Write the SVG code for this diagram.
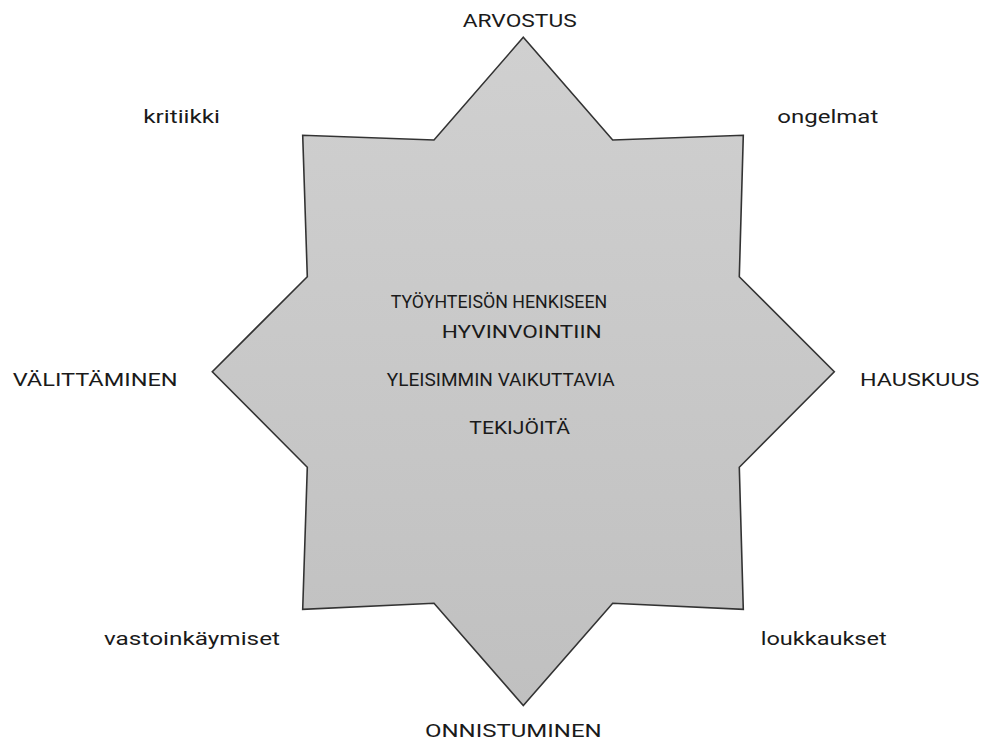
<svg xmlns="http://www.w3.org/2000/svg" width="987" height="742" viewBox="0 0 987 742">
<defs>
<linearGradient id="g" x1="0" y1="0" x2="0" y2="1">
<stop offset="0" stop-color="#d0d0d0"/>
<stop offset="1" stop-color="#c0c0c0"/>
</linearGradient>
<style>
text{font-family:Roboto,"Liberation Sans",sans-serif;font-size:18.5px;fill:#1a1a1a}
.star{fill:url(#g);stroke:#333;stroke-width:1.6;stroke-linejoin:miter}
</style>
</defs>
<rect width="987" height="742" fill="#fff"/>
<g id="star">
<polygon class="star" points="523.3,37.3 612.7,140 743.3,135.3 739.3,276.7 834.3,371.7 739.3,467.3 743.3,609.3 612.7,603.3 523.3,705.5 434,603.3 302.7,609.3 307.3,467.3 212.3,371.7 307.3,276.7 302.7,135.3 434,140"/>
<text x="390.7" y="308.3" textLength="216.5" lengthAdjust="spacingAndGlyphs">TYÖYHTEISÖN HENKISEEN</text>
<text x="441.7" y="338.3" textLength="160" lengthAdjust="spacingAndGlyphs">HYVINVOINTIIN</text>
<text x="386.7" y="386" textLength="228" lengthAdjust="spacingAndGlyphs">YLEISIMMIN VAIKUTTAVIA</text>
<text x="469.3" y="434" textLength="100.7" lengthAdjust="spacingAndGlyphs">TEKIJÖITÄ</text>
</g>
<g id="connectors"></g>
<g id="n-arvostus"><text x="462.7" y="27.3" textLength="114" lengthAdjust="spacingAndGlyphs">ARVOSTUS</text></g>
<g id="n-onnistuminen"><text x="425" y="736.7" textLength="176.7" lengthAdjust="spacingAndGlyphs">ONNISTUMINEN</text></g>
<g id="n-valittaminen"><text x="12.7" y="386" textLength="165" lengthAdjust="spacingAndGlyphs">VÄLITTÄMINEN</text></g>
<g id="n-hauskuus"><text x="860" y="386" textLength="119.3" lengthAdjust="spacingAndGlyphs">HAUSKUUS</text></g>
<g id="n-kritiikki"><text x="143.3" y="123.3" textLength="76.7" lengthAdjust="spacingAndGlyphs">kritiikki</text></g>
<g id="n-ongelmat"><text x="777.3" y="123.3" textLength="101" lengthAdjust="spacingAndGlyphs">ongelmat</text></g>
<g id="n-vastoinkaymiset"><text x="104" y="645" textLength="176" lengthAdjust="spacingAndGlyphs">vastoinkäymiset</text></g>
<g id="n-loukkaukset"><text x="760.7" y="645" textLength="126" lengthAdjust="spacingAndGlyphs">loukkaukset</text></g>
</svg>
